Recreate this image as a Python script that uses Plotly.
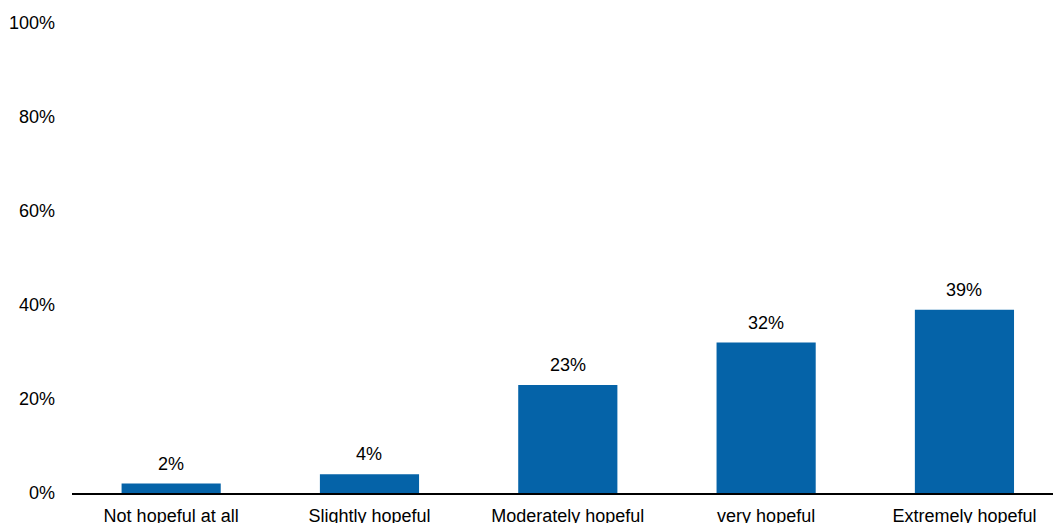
import plotly.graph_objects as go

# Survey responses: share of respondents by level of hope
categories = ["Not hopeful at all", "Slightly hopeful", "Moderately hopeful",
              "very hopeful", "Extremely hopeful"]
shares = [2, 4, 23, 32, 39]
y_ticks = [0, 20, 40, 60, 80, 100]
y_tick_labels = [f"{t}%" for t in y_ticks]

BAR_COLOR = "#0563A8"
FONT = dict(family="Liberation Sans, Arial, sans-serif", size=18, color="#000000")

fig = go.Figure(
    go.Bar(
        x=categories,
        y=shares,
        marker=dict(color=BAR_COLOR, line=dict(width=0)),
        width=0.5,
        hoverinfo="skip",
    )
)

# value labels above each bar
for cat, val in zip(categories, shares):
    fig.add_annotation(
        x=cat, y=val, text=f"{val}%", showarrow=False,
        yanchor="bottom", yshift=8, font=FONT,
    )

fig.update_layout(
    width=1053,
    height=523,
    margin=dict(l=72, r=0, t=23, b=30),
    paper_bgcolor="white",
    plot_bgcolor="white",
    font=FONT,
    showlegend=False,
    bargap=0.5,
)

fig.update_xaxes(
    range=[-0.5, 4.4465],
    automargin=False,
    showline=True,
    linecolor="#000000",
    linewidth=2,
    ticks="",
    showgrid=False,
    zeroline=False,
    ticklabelstandoff=5,
    tickfont=FONT,
)

fig.update_yaxes(
    range=[0, 100],
    automargin=False,
    tickvals=y_ticks,
    ticktext=y_tick_labels,
    showline=False,
    showgrid=False,
    zeroline=False,
    ticks="",
    ticklabelstandoff=16,
    tickfont=FONT,
)

fig.write_html("out.html")
